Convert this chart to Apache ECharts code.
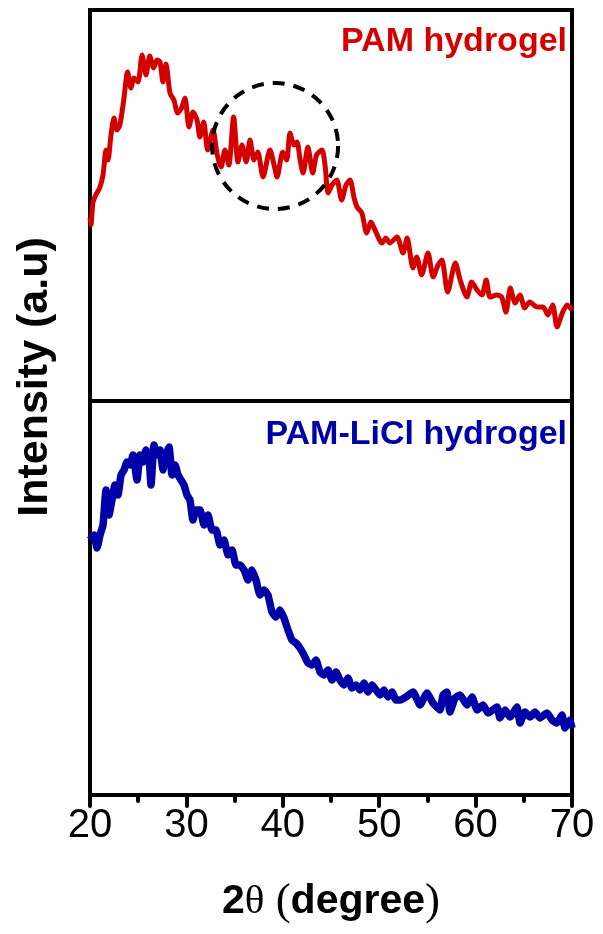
<!DOCTYPE html>
<html>
<head>
<meta charset="utf-8">
<script src="https://cdn.jsdelivr.net/npm/echarts@6/dist/echarts.min.js"></script>
<style>
html,body{margin:0;padding:0;background:#fff;}
#chart{width:603px;height:934px;}
</style>
</head>
<body>
<div id="chart"></div>
<script>
// 2θ tick range
var xMin = 20, xMax = 70, xStep = 10;

// PAM hydrogel (top panel)
var pamX = [20.0,20.1,20.3,20.6,21.0,21.35,21.66,21.87,22.18,22.49,22.8,23.1,23.5,23.9,24.25,24.56,24.98,25.4,25.8,26.2,26.6,26.95,27.26,27.57,27.88,28.3,28.7,29.1,29.5,29.85,30.27,30.68,31.1,31.4,31.8,32.2,32.76,33.2,33.6,34.0,34.4,34.9,35.35,35.77,36.2,36.6,37.0,37.4,37.95,38.67,39.1,39.4,40.0,40.4,40.75,41.16,41.47,41.8,42.1,42.6,43.1,43.5,44.07,44.4,44.7,45.1,45.6,46.1,46.56,46.97,47.4,47.7,48.2,48.7,49.15,49.56,50.3,50.7,51.1,51.85,52.47,52.9,53.5,53.9,54.4,55.06,55.6,56.1,56.5,57.1,57.9,58.4,59.1,59.6,60.15,60.66,61.1,61.5,62.2,62.7,63.15,63.6,64.1,64.6,65.1,65.6,66.4,67.0,67.5,68.0,68.45,69.0,69.5,70.0];
var pamY = [183,176,198,206,213,226,251,241,266,283,271,276,301,329,313,323,319,346,326,345,333,341,339,319,337,308,301,288,293,303,274,289,281,264,279,251,271,246,234,251,236,284,239,256,239,261,241,249,224,251,236,224,249,241,268,256,259,241,228,254,228,246,251,234,208,216,221,201,216,221,203,194,188,168,179,171,158,163,158,164,148,163,133,144,126,148,124,136,141,109,138,121,104,119,111,106,121,104,106,104,89,113,98,106,93,99,94,94,86,96,74,88,96,91];

// PAM-LiCl hydrogel (bottom panel)
var liclX = [20.00,20.41,20.73,21.04,21.35,21.66,21.97,22.28,22.59,22.90,23.22,23.53,23.84,24.15,24.46,24.88,25.19,25.50,25.81,26.12,26.33,26.64,26.95,27.26,27.57,27.88,28.20,28.51,28.82,29.13,29.44,29.75,30.06,30.37,30.68,31.00,31.41,31.83,32.24,32.66,33.07,33.49,33.90,34.32,34.73,35.15,35.56,35.98,36.39,36.80,37.22,37.63,38.05,38.46,38.88,39.29,39.71,40.12,40.54,40.95,41.37,41.78,42.20,42.61,43.03,43.44,43.86,44.27,44.69,45.10,45.52,45.93,46.35,46.76,47.18,47.59,48.01,48.42,48.84,49.25,49.67,50.08,50.50,50.91,51.33,51.74,52.16,52.78,53.51,54.23,54.96,55.58,56.31,56.62,57.03,57.34,57.86,58.38,59.11,59.63,60.15,60.77,61.29,62.22,62.53,63.05,63.57,64.29,64.61,65.12,65.64,66.16,66.68,67.41,67.93,68.44,68.96,69.27,69.79,70.00];
var liclY = [255,260,247,260,270,305,280,295,310,300,320,325,333,330,340,315,340,333,345,337,310,350,340,345,325,340,348,320,330,320,315,310,300,295,275,285,285,270,280,265,265,250,255,240,245,230,230,225,215,225,215,200,205,200,183,178,185,177,165,155,152,147,140,132,130,135,123,120,125,115,123,115,110,117,107,110,105,112,103,110,105,100,105,98,103,95,95,98,103,90,102,92,85,100,103,83,97,100,90,98,85,90,82,88,77,85,78,88,72,83,78,83,77,82,75,72,80,67,75,67];

// dashed circle highlight (centre in data units)
var circleCenter = [39.2, 255];

function zip(xs, ys){ var out=[]; for (var i=0;i<xs.length;i++) out.push([xs[i], ys[i]]); return out; }

var chart = echarts.init(document.getElementById('chart'), null, {renderer:'canvas'});
var option = {
  animation: false,
  backgroundColor: '#ffffff',
  grid: [
    {left:90, top:10, width:482, height:391, show:true, borderColor:'#000', borderWidth:4, backgroundColor:'transparent'},
    {left:90, top:401, width:482, height:394, show:true, borderColor:'#000', borderWidth:4, backgroundColor:'transparent'}
  ],
  xAxis: [
    {gridIndex:0, type:'value', min:xMin, max:xMax, interval:xStep, show:false},
    {gridIndex:1, type:'value', min:xMin, max:xMax, interval:xStep,
     axisLine:{show:true, onZero:false, lineStyle:{color:'#000', width:4}},
     axisTick:{show:true, inside:false, length:11, lineStyle:{color:'#000', width:4, cap:'round'}},
     minorTick:{show:true, splitNumber:2, length:6, lineStyle:{color:'#000', width:4, cap:'round'}},
     splitLine:{show:false},
     axisLabel:{fontSize:40, color:'#000', fontFamily:'Liberation Sans, Arial, sans-serif', margin:11}
    }
  ],
  yAxis: [
    {gridIndex:0, type:'value', min:0, max:391, show:false},
    {gridIndex:1, type:'value', min:0, max:394, show:false}
  ],
  series: [
    {type:'line', xAxisIndex:0, yAxisIndex:0, data:zip(pamX, pamY), showSymbol:false, symbol:'none', smooth:0.25,
     lineStyle:{color:'#d40000', width:5, join:'round'}},
    {type:'line', xAxisIndex:1, yAxisIndex:1, data:zip(liclX, liclY), showSymbol:false, symbol:'none', smooth:0.15,
     lineStyle:{color:'#0000a8', width:7.5, join:'round'}},
    {type:'scatter', xAxisIndex:0, yAxisIndex:0, data:[circleCenter], symbol:'circle', symbolSize:126, z:5,
     itemStyle:{color:'rgba(0,0,0,0)', borderColor:'#000', borderWidth:4, borderType:[12,9], opacity:1}, silent:true}
  ],
  graphic: [
    {type:'text', x:567, y:42, style:{text:'PAM hydrogel', fill:'#d40000', font:'bold 34px "Liberation Sans", Arial, sans-serif', align:'right', verticalAlign:'middle'}},
    {type:'text', x:567, y:435, style:{text:'PAM-LiCl hydrogel', fill:'#0000a8', font:'bold 34px "Liberation Sans", Arial, sans-serif', align:'right', verticalAlign:'middle'}},
    {type:'text', x:35, y:377, rotation:Math.PI/2, style:{text:'Intensity (a.u)', fill:'#000', font:'bold 43px "Liberation Sans", Arial, sans-serif', align:'center', verticalAlign:'middle'}},
    {type:'text', x:331, y:902, style:{
      text:'{a|2}{b|θ}{c| (}{a|degree}{c|)}', align:'center', verticalAlign:'middle',
      rich:{
        a:{fontFamily:'"Liberation Sans", Arial, sans-serif', fontWeight:'bold', fontSize:41, fill:'#000', color:'#000'},
        b:{fontFamily:'"Liberation Serif", "Times New Roman", serif', fontSize:41, fill:'#000', color:'#000'},
        c:{fontFamily:'"Liberation Serif", "Times New Roman", serif', fontSize:45, fill:'#000', color:'#000'}
      }}}
  ]
};
chart.setOption(option);
</script>
</body>
</html>
